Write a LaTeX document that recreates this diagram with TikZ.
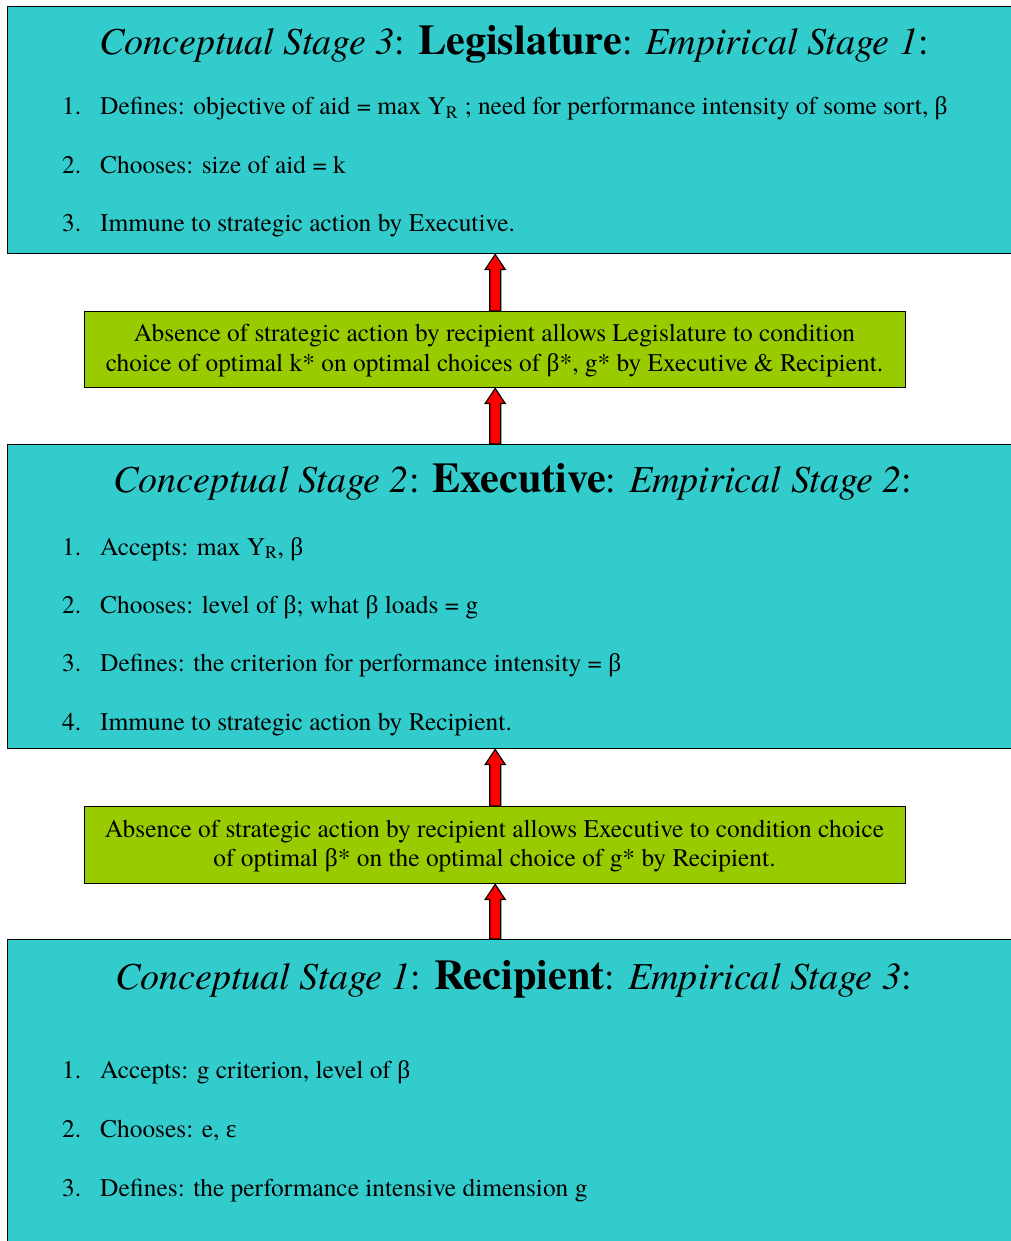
\documentclass[tikz,border=0pt]{standalone}
\usepackage{fontspec}
\IfFontExistsTF{texgyretermes-regular.otf}{%
  \setmainfont{texgyretermes}[Extension=.otf,UprightFont=*-regular,BoldFont=*-bold,ItalicFont=*-italic,BoldItalicFont=*-bolditalic]}{%
  \setmainfont{Liberation Serif}}
\newfontfamily\grkfont{Liberation Serif}
\newcommand\bet{{\grkfont β}}
\newcommand\eps{{\grkfont ε}}
\usetikzlibrary{calc}
\definecolor{boxcyan}{HTML}{33CCCC}
\definecolor{boxgreen}{HTML}{99CC00}
\definecolor{arrred}{HTML}{FF0000}
\newcommand\fatarrow[2]{%
  \draw[fatarr] ($#1+(-5.5,0)$) -- ($#2+(-5.5,15)$) -- ++(-4.5,0) -- #2 -- ++(10,15) -- ++(-4.5,0) -- ($#1+(5.5,0)$) -- cycle;}
\newcommand\bodyfont{\fontsize{25.4}{29.3}\selectfont}
\newcommand\ttlfont{\fontsize{38.1}{44}\selectfont}
\newcommand\bigfont{\fontsize{42.3}{48}\selectfont\bfseries}
\begin{document}
\begin{tikzpicture}[x=1pt,y=-1pt,
  bigbox/.style={draw=black,line width=1.4pt,fill=boxcyan,anchor=north west,inner sep=0pt},
  greenbox/.style={draw=black,line width=1.4pt,fill=boxgreen,anchor=north west,inner sep=0pt},
  fatarr/.style={draw=black,line width=1.2pt,fill=arrred,line join=miter},
  ttl/.style={anchor=base,inner sep=0pt,font=\ttlfont},
  item/.style={anchor=base west,inner sep=0pt,font=\bodyfont},
  gtext/.style={anchor=base,inner sep=0pt,font=\bodyfont}]
\useasboundingbox (0,0) rectangle (1010,1241);
\fill[white] (0,0) rectangle (1010,1241);
% boxes
\node[bigbox,minimum width=1020pt,minimum height=247pt] (b1) at (7,6) {};
\node[greenbox,minimum width=821pt,minimum height=76pt] (g1) at (84,311) {};
\node[bigbox,minimum width=1020pt,minimum height=304pt] (b2) at (7,444) {};
\node[greenbox,minimum width=821pt,minimum height=77pt] (g2) at (84,806) {};
\node[bigbox,minimum width=1020pt,minimum height=330pt] (b3) at (7,939) {};
% arrows
\fatarrow{(g1.north)}{(g1.north |- b1.south)}
\fatarrow{(g1.south |- b2.north)}{(g1.south)}
\fatarrow{(g2.north)}{(g2.north |- b2.south)}
\fatarrow{(g2.south |- b3.north)}{(g2.south)}
% box 1
\node[ttl] (t1) at (514,55) {\textit{Conceptual Stage 3}: {\bigfont Legislature}: \textit{Empirical Stage 1}:};
\node[item] (n11) at (62,115) {1.};
\node[item] (i11) at (100,115) {Defines: objective of aid = max Y\textsubscript{R} ; need for performance intensity of some sort, \bet};
\node[item] (n12) at (62,173.5) {2.};
\node[item] (i12) at (100,173.5) {Chooses: size of aid = k};
\node[item] (n13) at (62,232) {3.};
\node[item] (i13) at (100,232) {Immune to strategic action by Executive.};
% green 1
\node[gtext] (g1a) at (494.5,341.7) {Absence of strategic action by recipient allows Legislature to condition};
\node[gtext] (g1b) at (494.5,371) {choice of optimal k* on optimal choices of \bet*, g* by Executive \& Recipient.};
% box 2
\node[ttl] (t2) at (513,492.7) {\textit{Conceptual Stage 2}: {\bigfont Executive}: \textit{Empirical Stage 2}:};
\node[item] (n21) at (62,555) {1.};
\node[item] (i21) at (100,555) {Accepts: max Y\textsubscript{R}, \bet};
\node[item] (n22) at (62,613) {2.};
\node[item] (i22) at (100,613) {Chooses: level of \bet; what \bet\ loads = g};
\node[item] (n23) at (62,671) {3.};
\node[item] (i23) at (100,671) {Defines: the criterion for performance intensity = \bet};
\node[item] (n24) at (62,730) {4.};
\node[item] (i24) at (100,730) {Immune to strategic action by Recipient.};
% green 2
\node[gtext] (g2a) at (494.5,837.3) {Absence of strategic action by recipient allows Executive to condition choice};
\node[gtext] (g2b) at (494.5,866.7) {of optimal \bet* on the optimal choice of g* by Recipient.};
% box 3
\node[ttl] (t3) at (513.5,989) {\textit{Conceptual Stage 1}: {\bigfont Recipient}: \textit{Empirical Stage 3}:};
\node[item] (n31) at (62,1078) {1.};
\node[item] (i31) at (100,1078) {Accepts: g criterion, level of \bet};
\node[item] (n32) at (62,1137) {2.};
\node[item] (i32) at (100,1137) {Chooses: e, \eps};
\node[item] (n33) at (62,1196) {3.};
\node[item] (i33) at (100,1196) {Defines: the performance intensive dimension g};
\end{tikzpicture}
\end{document}
